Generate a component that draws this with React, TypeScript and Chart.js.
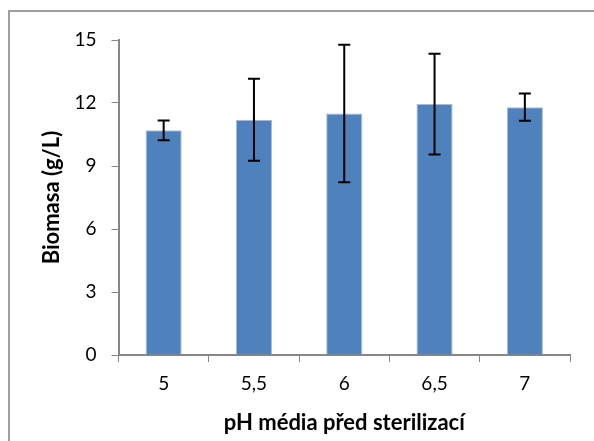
import React, { useEffect, useRef } from "react";
import { Chart, registerables } from "chart.js";

Chart.register(...registerables);

const categories = ["5", "5,5", "6", "6,5", "7"];
const biomass = [10.7, 11.2, 11.5, 11.95, 11.8];
const errors = [0.47, 1.95, 3.27, 2.4, 0.65];
const yTicks = [0, 3, 6, 9, 12, 15];
const xTitle = "pH média před sterilizací";
const yTitle = "Biomasa (g/L)";

const FONT = "Lato, 'Noto Sans', sans-serif";

const errorBarPlugin = {
  id: "errorBars",
  afterDatasetsDraw(chart: any) {
    const meta = chart.getDatasetMeta(0);
    const y = chart.scales.y;
    const ctx = chart.ctx;
    ctx.save();
    ctx.strokeStyle = "#000000";
    ctx.lineWidth = 2;
    meta.data.forEach((bar: any, i: number) => {
      const x = bar.x;
      const top = y.getPixelForValue(biomass[i] + errors[i]);
      const bot = y.getPixelForValue(biomass[i] - errors[i]);
      ctx.beginPath();
      ctx.moveTo(x, top);
      ctx.lineTo(x, bot);
      ctx.moveTo(x - 6, top);
      ctx.lineTo(x + 6, top);
      ctx.moveTo(x - 6, bot);
      ctx.lineTo(x + 6, bot);
      ctx.stroke();
    });
    ctx.restore();
  },
};

export default function App() {
  const ref = useRef<HTMLCanvasElement | null>(null);
  useEffect(() => {
    if (!ref.current) return;
    const chart = new Chart(ref.current, {
      type: "bar",
      data: {
        labels: categories,
        datasets: [
          {
            data: biomass,
            backgroundColor: "#4f81bd",
            borderColor: "#a3bde0",
            borderWidth: 1,
            categoryPercentage: 1,
            barPercentage: 0.4,
          },
        ],
      },
      plugins: [errorBarPlugin],
      options: {
        animation: false,
        responsive: false,
        maintainAspectRatio: false,
        layout: { padding: { left: 8, top: 40, right: 24, bottom: 0 } },
        plugins: { legend: { display: false }, tooltip: { enabled: false } },
        scales: {
          x: {
            grid: {
              display: true,
              drawOnChartArea: false,
              drawTicks: true,
              tickLength: 7,
              color: "#868686",
              offset: true,
            },
            border: { color: "#868686", width: 2 },
            ticks: {
              color: "#000000",
              font: { family: FONT, size: 19 },
              padding: 10,
            },
            title: {
              display: true,
              text: xTitle,
              color: "#000000",
              font: { family: FONT, size: 22, weight: "bold" },
              padding: { top: 0, bottom: 5 },
            },
            afterFit(scale: any) {
              scale.height = 86;
            },
          },
          y: {
            min: 0,
            max: 15,
            afterBuildTicks(scale: any) {
              scale.ticks = yTicks.map((v) => ({ value: v }));
            },
            grid: {
              display: true,
              drawOnChartArea: false,
              drawTicks: true,
              tickLength: 7,
              color: "#868686",
            },
            border: { color: "#868686", width: 2 },
            ticks: {
              color: "#000000",
              font: { family: FONT, size: 19 },
              padding: 15,
            },
            title: {
              display: true,
              text: yTitle,
              color: "#000000",
              font: { family: FONT, size: 22, weight: "bold" },
              padding: { top: 31, bottom: 0 },
            },
            afterFit(scale: any) {
              scale.width = 110.5;
            },
          },
        },
      },
    });
    return () => chart.destroy();
  }, []);
  return (
    <div style={{ position: "absolute", left: 0, top: 0, width: 594, height: 441, background: "#fff", overflow: "hidden" }}>
      <div
        style={{
          position: "absolute",
          left: 8,
          top: 10,
          width: 700,
          height: 600,
          borderLeft: "2px solid #a0a0a0",
          borderTop: "2px solid #a0a0a0",
        }}
      />
      <canvas ref={ref} width={594} height={441} style={{ position: "absolute", left: 0, top: 0 }} />
    </div>
  );
}
